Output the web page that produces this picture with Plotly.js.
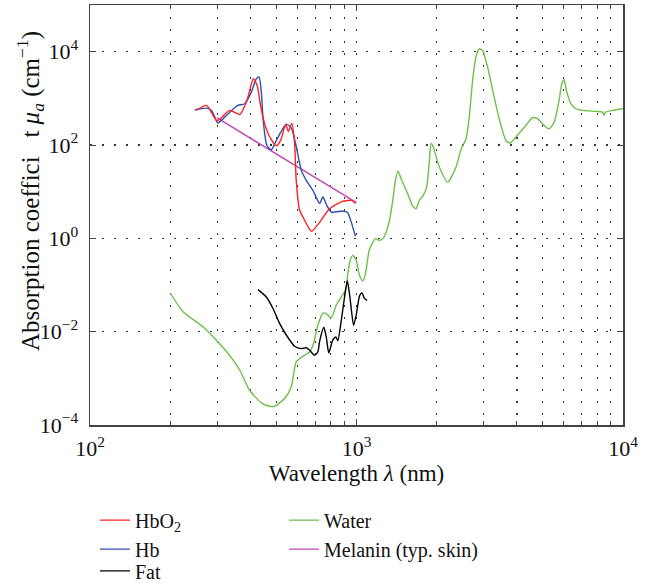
<!DOCTYPE html>
<html>
<head>
<meta charset="utf-8">
<script src="https://cdn.plot.ly/plotly-3.0.1.min.js"></script>
<style>html,body{margin:0;padding:0;background:#fff;}#chart{width:648px;height:584px;}</style>
</head>
<body>
<div id="chart"></div>
<script>
// Wavelength (nm) and absorption coefficient (cm^-1)
const hbo2Wl = [250, 274, 300, 334, 365, 389, 410, 424, 437, 454, 476, 501, 521, 542, 555, 572, 586, 594, 612, 633, 667, 678, 727, 792, 886, 958, 991];
const hbo2Mu = [550, 705, 328, 551, 452, 947, 2630, 1890, 671, 263, 138, 96, 132, 277, 195, 290, 108, 17.5, 4.0, 2.7, 1.56, 1.41, 2.2, 4.3, 6.2, 6.5, 5.6];

const hbWl = [247, 274, 286, 302, 316, 340, 359, 381, 403, 421, 431, 440, 446, 461, 479, 500, 522, 545, 569, 591, 621, 648, 686, 727, 748, 771, 804, 889, 927, 955, 991];
const hbMu = [570, 617, 551, 294, 366, 551, 705, 766, 1358, 2630, 2845, 1254, 366, 98, 79, 125, 196, 280, 232, 107, 28.6, 17.5, 10.7, 5.6, 7.7, 5.3, 3.66, 3.84, 3.52, 2.25, 1.1];

const fatWl = [427, 459, 486, 515, 546, 586, 621, 648, 667, 696, 716, 727, 754, 770, 787, 815, 837, 851, 877, 902, 924, 946, 975, 997, 1028, 1049, 1072, 1096];
const fatMu = [0.0797, 0.0553, 0.0313, 0.0149, 0.00838, 0.00487, 0.00434, 0.00452, 0.0040, 0.00313, 0.00367, 0.00622, 0.0124, 0.0077, 0.0035, 0.0067, 0.0077, 0.0064, 0.0175, 0.0553, 0.123, 0.0519, 0.0137, 0.0224, 0.060, 0.0675, 0.0511, 0.047];

const waterWl = [200, 224, 266, 298, 334, 365, 397, 440, 472, 493, 537, 569, 594, 629, 667, 690, 716, 748, 770, 804, 839, 877, 909, 928, 947, 968, 997, 1026, 1056, 1081, 1112, 1135, 1178, 1219, 1255, 1299, 1337, 1368, 1400, 1432, 1470, 1556, 1625, 1673, 1722, 1771, 1833, 1877, 1905, 1931, 2046, 2198, 2363, 2466, 2576, 2649, 2727, 2806, 2888, 2972, 3104, 3285, 3431, 3637, 3765, 3963, 4321, 4571, 4775, 5058, 5280, 5516, 5756, 5893, 6012, 6132, 6369, 6653, 7041, 7904, 8366, 8489, 8610, 9120, 10000];
const waterMu = [0.0674, 0.0264, 0.0126, 0.00655, 0.00313, 0.00149, 0.000556, 0.000297, 0.000252, 0.000252, 0.000369, 0.000655, 0.00225, 0.00297, 0.00367, 0.00556, 0.0137, 0.0251, 0.0244, 0.0196, 0.0367, 0.0553, 0.077, 0.175, 0.338, 0.432, 0.338, 0.161, 0.122, 0.175, 0.509, 0.708, 0.986, 0.906, 0.986, 1.48, 2.86, 6.5, 17.5, 27.6, 19, 9.06, 4.92, 4.33, 6.5, 7.93, 12.5, 46.8, 108, 98, 33.6, 16, 33.6, 80.5, 136, 396, 2415, 7620, 11500, 10600, 4660, 1060, 366, 125, 110, 148, 263, 384, 366, 263, 223, 309, 902, 2056, 2502, 1476, 766, 598, 551, 525, 507, 431, 507, 551, 598];

const melaninWl = [300, 1000];
const melaninMu = [380, 5.8];

const xTickVals = [100, 1000, 10000];
const xTickText = ['10<sup>2</sup>', '10<sup>3</sup>', '10<sup>4</sup>'];
const xMinorVals = [200, 300, 400, 500, 600, 700, 800, 900, 2000, 3000, 4000, 5000, 6000, 7000, 8000, 9000];
const yTickVals = [1e-4, 1e-2, 1, 1e2, 1e4];
const yTickText = ['10<sup>−4</sup>', '10<sup>−2</sup>', '10<sup>0</sup>', '10<sup>2</sup>', '10<sup>4</sup>'];

const FONT = 'Liberation Serif, Times New Roman, serif';
const dotDash = '1.5px,10.5px';

function tr(x, y, name, color, legend, spline) {
  return {
    x: x, y: y, name: name, type: 'scatter', mode: 'lines',
    line: {color: color, width: 1.4, shape: spline ? 'spline' : 'linear', smoothing: 0.6},
    legend: legend
  };
}

const data = [
  tr(waterWl, waterMu, 'Water', '#6cc04a', 'legend2', true),
  tr(melaninWl, melaninMu, 'Melanin (typ. skin)', '#c046b4', 'legend2', false),
  tr(fatWl, fatMu, 'Fat', '#000000', 'legend3', true),
  tr(hbWl, hbMu, 'Hb', '#2f4fb0', 'legend', true),
  tr(hbo2Wl, hbo2Mu, 'HbO<sub>2</sub>', '#ff2020', 'legend', true)
];

const legFont = {family: FONT, size: 20, color: '#111'};
function leg(px, y, order) {
  return {
    x: (px - 90) / 533, y: y, xanchor: 'left', yanchor: 'top',
    orientation: 'v', bgcolor: 'rgba(0,0,0,0)', borderwidth: 0,
    font: legFont, traceorder: order
  };
}

const layout = {
  width: 648, height: 584,
  margin: {l: 90, r: 25, t: 5, b: 159, autoexpand: false},
  paper_bgcolor: '#fff', plot_bgcolor: '#fff',
  font: {family: FONT, size: 20, color: '#111'},
  showlegend: true,
  xaxis: {
    type: 'log', range: [2, 4], automargin: false,
    tickmode: 'array', tickvals: xTickVals, ticktext: xTickText,
    ticks: 'inside', ticklen: 6, tickcolor: '#444', tickwidth: 1,
    showline: true, linecolor: '#444', linewidth: 1.5, mirror: 'allticks',
    showgrid: true, gridcolor: '#333', gridwidth: 1.2, griddash: dotDash,
    zeroline: false,
    tickfont: {family: FONT, size: 22, color: '#111'},
    ticklabelstandoff: 3,
    minor: {tickmode: 'array', tickvals: xMinorVals, ticks: 'inside', ticklen: 4, tickcolor: '#444',
            showgrid: true, gridcolor: '#333', gridwidth: 1.2, griddash: dotDash},
    title: {text: 'Wavelength <i>λ</i> (nm)', font: {family: FONT, size: 23, color: '#111'}, standoff: 0}
  },
  yaxis: {
    type: 'log', range: [-4, 5], automargin: false,
    tickmode: 'array', tickvals: yTickVals, ticktext: yTickText,
    ticks: 'inside', ticklen: 6, tickcolor: '#444', tickwidth: 1,
    showline: true, linecolor: '#444', linewidth: 1.5, mirror: 'allticks',
    showgrid: true, gridcolor: '#333', gridwidth: 1.2, griddash: dotDash,
    zeroline: false,
    tickfont: {family: FONT, size: 22, color: '#111'},
    ticklabelstandoff: 6
  },
  legend: leg(95, -0.180, 'reversed'),
  legend2: leg(284, -0.180, 'normal'),
  legend3: leg(95, -0.301, 'normal'),
  annotations: [{
    text: 'Absorption coeffici\u00a0\u00a0\u00a0t <i>μ</i><sub><i>a</i></sub> (cm<sup>−1</sup>)',
    xref: 'paper', yref: 'paper', x: (30 - 90) / 533, y: (425 - 191) / 420,
    xanchor: 'center', yanchor: 'middle', textangle: -90, showarrow: false,
    font: {family: FONT, size: 25, color: '#111'}
  }]
};

Plotly.newPlot('chart', data, layout, {displayModeBar: false, staticPlot: true});
</script>
</body>
</html>
